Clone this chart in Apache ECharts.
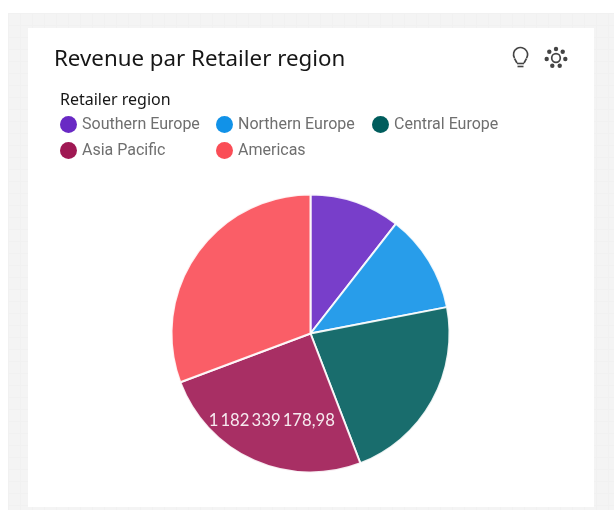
<!DOCTYPE html>
<html>
<head>
<meta charset="utf-8">
<title>Revenue par Retailer region</title>
<script src="https://cdn.jsdelivr.net/npm/echarts@6/dist/echarts.min.js"></script>
<style>
html, body { margin: 0; padding: 0; background: #fff; }
#panel {
    position: absolute; left: 8px; top: 13px; width: 606px; height: 497px;
    background-color: #f4f4f4;
    background-image: linear-gradient(#f1f1f1 1px, transparent 1px), linear-gradient(90deg, #f1f1f1 1px, transparent 1px);
    background-size: 12px 12px;
}
#card { position: absolute; left: 28px; top: 28px; width: 566px; height: 479px; background: #fff; }
#main { position: absolute; left: 0; top: 0; width: 614px; height: 510px; }
</style>
</head>
<body>
<div id="panel"></div>
<div id="card"></div>
<div id="main"></div>
<script>
var regions = ['Southern Europe', 'Northern Europe', 'Central Europe', 'Asia Pacific', 'Americas'];
var revenue = [495000000, 538000000, 1044000000, 1182339178.98, 1444000000];
var colors = ['#6929c4', '#1192e8', '#005d5d', '#9f1853', '#fa4d56'];
var labelText = '1\u2009182\u2009339\u2009178,98';

var pieData = [];
for (var i = 0; i < regions.length; i++) {
    pieData.push({ name: regions[i], value: revenue[i] });
}
// seule la tranche Asia Pacific a une etiquette
pieData[3].label = { show: true, position: 'inside', formatter: labelText, color: '#fff', fontFamily: 'Lato', fontSize: 16.7 };

function legendColumn(left, names) {
    return {
        left: left, top: 111, orient: 'vertical',
        icon: 'circle', itemWidth: 17, itemHeight: 17, itemGap: 9,
        itemStyle: { opacity: 1, borderWidth: 0 },
        textStyle: { color: '#6f6f6f', fontFamily: 'Roboto', fontSize: 16 },
        data: names
    };
}

var myChart = echarts.init(document.getElementById('main'));
myChart.setOption({
    animation: false,
    color: colors,
    title: [
        { text: 'Revenue par Retailer region', left: 49, top: 44, textStyle: { color: '#161616', fontFamily: 'Noto Sans', fontSize: 22.3, fontWeight: 'normal' } },
        { text: 'Retailer region', left: 55, top: 87, textStyle: { color: '#161616', fontFamily: 'Noto Sans', fontSize: 16, fontWeight: 'normal' } }
    ],
    legend: [
        legendColumn(55, [regions[0], regions[3]]),
        legendColumn(211, [regions[1], regions[4]]),
        legendColumn(367, [regions[2]])
    ],
    series: [{
        type: 'pie',
        center: [310.5, 333.5],
        radius: [0, 139],
        clockwise: true,
        startAngle: 90,
        label: { show: false },
        labelLine: { show: false },
        labelLayout: { dx: -9, dy: 21 },
        emphasis: { disabled: true },
        itemStyle: { opacity: 0.9, borderColor: '#fff', borderWidth: 2 },
        data: pieData
    }],
    graphic: [
        // ampoule
        { type: 'arc', shape: { cx: 520.5, cy: 54.5, r: 7, startAngle: 2.6, endAngle: 0.54, clockwise: true }, style: { fill: 'none', stroke: '#444', lineWidth: 1.6 } },
        { type: 'line', shape: { x1: 514.5, y1: 58.5, x2: 517, y2: 63 }, style: { stroke: '#444', lineWidth: 1.6 } },
        { type: 'line', shape: { x1: 526.5, y1: 58.5, x2: 524, y2: 63 }, style: { stroke: '#444', lineWidth: 1.6 } },
        { type: 'line', shape: { x1: 517, y1: 63.5, x2: 524, y2: 63.5 }, style: { stroke: '#444', lineWidth: 1.6 } },
        { type: 'line', shape: { x1: 517.5, y1: 66.5, x2: 523.5, y2: 66.5 }, style: { stroke: '#444', lineWidth: 1.6 } },
        // icone insights
        { type: 'circle', shape: { cx: 556, cy: 58, r: 4.3 }, style: { fill: 'none', stroke: '#444', lineWidth: 1.7 } },
        { type: 'circle', shape: { cx: 556, cy: 49, r: 2.2 }, style: { fill: '#444' } },
        { type: 'circle', shape: { cx: 549.3, cy: 51.7, r: 2.2 }, style: { fill: '#444' } },
        { type: 'circle', shape: { cx: 562.7, cy: 51.7, r: 2.2 }, style: { fill: '#444' } },
        { type: 'circle', shape: { cx: 546.7, cy: 59, r: 2.2 }, style: { fill: '#444' } },
        { type: 'circle', shape: { cx: 565.3, cy: 59, r: 2.2 }, style: { fill: '#444' } },
        { type: 'circle', shape: { cx: 552.3, cy: 65.7, r: 2.2 }, style: { fill: '#444' } },
        { type: 'circle', shape: { cx: 559.7, cy: 65.7, r: 2.2 }, style: { fill: '#444' } }
    ]
});
</script>
</body>
</html>
